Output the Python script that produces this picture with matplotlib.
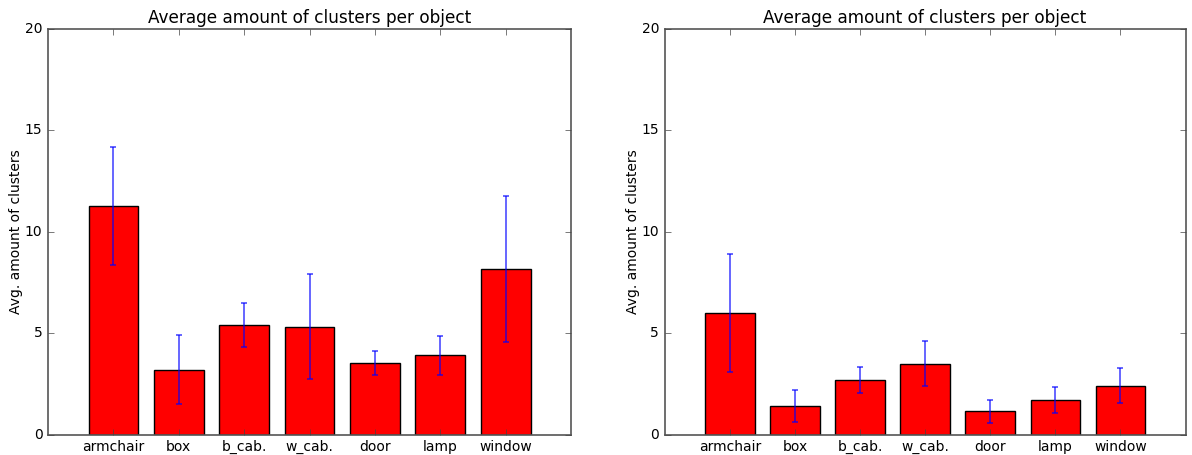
import matplotlib
matplotlib.use("Agg")
import matplotlib.pyplot as plt
import numpy as np

categories = ["armchair", "box", "b_cab.", "w_cab.", "door", "lamp", "window"]

left_means = [11.27, 3.20, 5.41, 5.33, 3.53, 3.91, 8.17]
left_errs = [2.90, 1.70, 1.07, 2.60, 0.58, 0.98, 3.59]

right_means = [6.00, 1.41, 2.70, 3.50, 1.15, 1.70, 2.42]
right_errs = [2.92, 0.80, 0.64, 1.12, 0.57, 0.65, 0.87]

title = "Average amount of clusters per object"
ylabel = "Avg. amount of clusters"
yticks = [0, 5, 10, 15, 20]

plt.style.use("classic")
plt.rcParams["font.family"] = "DejaVu Sans"

fig = plt.figure(figsize=(11.92, 4.55), dpi=100)
fig.patch.set_facecolor("white")
ax1 = fig.add_axes([0.0403, 0.0446, 0.4388, 0.8916])
ax2 = fig.add_axes([0.5576, 0.0446, 0.4370, 0.8916])

x = np.arange(len(categories))
for ax, means, errs in [(ax1, left_means, left_errs), (ax2, right_means, right_errs)]:
    ax.bar(x, means, width=0.76, color="red", edgecolor="black", linewidth=1.0, zorder=2)
    ax.errorbar(x, means, yerr=errs, fmt="none", ecolor="blue", alpha=0.7,
                elinewidth=1.2, capsize=2.5, capthick=1.2, zorder=3)
    ax.set_xlim(-1, 7)
    ax.set_ylim(0, 20)
    ax.set_yticks(yticks)
    ax.set_xticks(x)
    ax.set_xticklabels(categories)
    ax.tick_params(axis="both", labelsize=10, direction="in", length=4, color="#444444")
    ax.tick_params(axis="x", pad=4)
    ax.set_title(title, fontsize=12.2, pad=4)
    ax.set_ylabel(ylabel, fontsize=10, labelpad=1)
    for s in ax.spines.values():
        s.set_color("#555555")
        s.set_linewidth(1.2)

fig.savefig("out.png", dpi=100, facecolor="white")
